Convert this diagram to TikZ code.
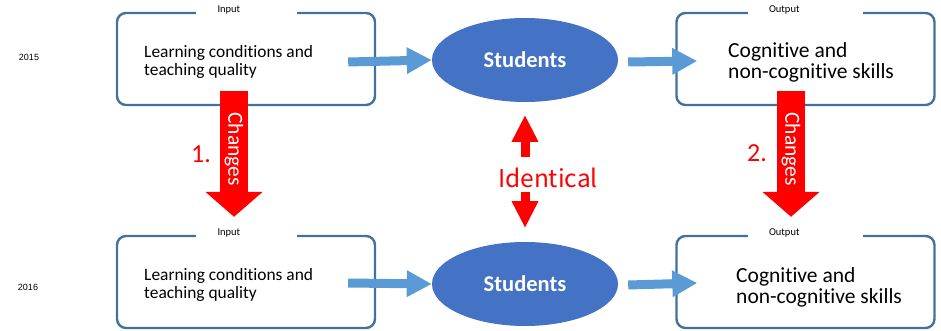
\documentclass[tikz,border=0pt]{standalone}
\usepackage{fontspec}
\setmainfont[Ligatures=CommonOff]{Carlito}
\newfontfamily\yearfont{Liberation Sans}
\newfontfamily\jpfont{Noto Sans CJK JP}
\usetikzlibrary{shapes.geometric,arrows.meta,calc}

\definecolor{boxline}{HTML}{41719C}
\definecolor{oval}{HTML}{4472C4}
\definecolor{flow}{HTML}{5B9BD5}
\definecolor{change}{HTML}{FF0000}

\begin{document}
\begin{tikzpicture}[x=1pt,y=-1pt,
  stagebox/.style={draw=boxline,line width=2.4pt,rounded corners=9pt,
    minimum width=258pt,minimum height=92pt,inner sep=0pt},
  titlegap/.style={fill=white,inner sep=0pt,minimum width=101pt,minimum height=8pt},
  titletext/.style={anchor=west,inner sep=0pt,font=\fontsize{10.5}{11}\selectfont},
  boxtext/.style={anchor=west,align=left,inner sep=0pt},
  students/.style={ellipse,fill=oval,minimum width=186pt,minimum height=84pt,inner sep=0pt,
    text=white,font=\fontsize{22.5}{24}\selectfont\bfseries},
  flowarrow/.style={draw=flow,line width=9pt,
    -{Triangle[length=25pt,width=25pt]}},
  bigchange/.style={draw=change,line width=28pt,
    -{Triangle[length=25pt,width=56pt]}},
  smallchange/.style={draw=change,line width=9pt,
    -{Triangle[length=27pt,width=25pt]}},
  changelabel/.style={rotate=-90,text=white,font=\fontsize{21.5}{22}\selectfont,inner sep=0pt},
  stepnum/.style={text=change,font=\fontsize{26}{27}\selectfont,inner sep=0pt},
  year/.style={font=\yearfont\fontsize{9}{10}\selectfont,inner sep=0pt},
]
\useasboundingbox (0,0) rectangle (941,331);

% year labels
\node[year] (y1) at (29,57) {2015};
\node[year] (y2) at (28,287) {2016};

% input and output boxes
\node[stagebox] (in1)  at (246,59)    {};
\node[stagebox] (out1) at (805.5,59)  {};
\node[stagebox] (in2)  at (246,282)   {};
\node[stagebox] (out2) at (805.5,282) {};

% gaps in the top borders with their titles
\node[titlegap] (gin1)  at (in1.north)  {};
\node[titlegap,minimum width=115pt] (gout1) at (out1.north) {};
\node[titlegap] (gin2)  at (in2.north)  {};
\node[titlegap,minimum width=115pt] (gout2) at (out2.north) {};
\node[titletext] (tin1)  at ($(gin1.west)+(22,-1.5)$)  {Input};
\node[titletext] (tout1) at ($(gout1.west)+(21,-1.5)$) {Output};
\node[titletext] (tin2)  at ($(gin2.west)+(22,-1.5)$)  {Input};
\node[titletext] (tout2) at ($(gout2.west)+(21,-1.5)$) {Output};

\node[boxtext,font=\fontsize{17.4}{18}\selectfont] (lin1) at (144,62)
  {Learning conditions and\\teaching quality};
\node[boxtext,font=\fontsize{17.4}{18}\selectfont] (lin2) at (144,285)
  {Learning conditions and\\teaching quality};
\node[boxtext,font=\fontsize{21.5}{21}\selectfont] (lout1) at (728,62)
  {Cognitive and\\non-cognitive skills};
\node[boxtext,font=\fontsize{21.5}{21}\selectfont] (lout2) at (736,287)
  {Cognitive and\\non-cognitive skills};

% students
\node[students] (s1) at (525,60)  {Students};
\node[students] (s2) at (525,284) {Students};

% flow arrows
\coordinate (a1) at ($(in1.east)+(-28,3)$);
\coordinate (a2) at ($(in2.east)+(-28,1)$);
\draw[flowarrow] (a1) -- (s1.west);
\draw[flowarrow] (a2) -- (s2.west);
\coordinate (c1) at ($(s1.east)+(10,2)$);
\coordinate (c2) at ($(s2.east)+(10,1)$);
\coordinate (d1) at ($(out1.west)+(22,2)$);
\coordinate (d2) at ($(out2.west)+(22,1)$);
\draw[flowarrow] (c1) -- (d1);
\draw[flowarrow] (c2) -- (d2);

% change arrows
\coordinate (ch1top) at ($(in1.south)+(-12,-15)$);
\coordinate (ch1tip) at ($(in2.north)+(-12,-18)$);
\coordinate (ch2top) at ($(out1.south)+(-14.5,-15)$);
\coordinate (ch2tip) at ($(out2.north)+(-14.5,-18)$);
\draw[bigchange] (ch1top) -- (ch1tip);
\draw[bigchange] (ch2top) -- (ch2tip);
\node[changelabel] (chg1) at ($(ch1top)+(0,58)$) {Changes};
\node[changelabel] (chg2) at ($(ch2top)+(0,58)$) {Changes};
\node[stepnum] (n1) at (201,154) {1.};
\node[stepnum] (n2) at (757,153) {2.};

% identical students
\node[text=change,font=\jpfont\fontsize{24.5}{26}\selectfont,inner sep=0pt] (ident) at (548,178) {Identical};
\coordinate (up0) at (525,157);
\coordinate (dn0) at (525,192);
\draw[smallchange] (up0) -- (s1.south |- 0,115);
\draw[smallchange] (dn0) -- (s2.north |- 0,228);
\end{tikzpicture}
\end{document}
